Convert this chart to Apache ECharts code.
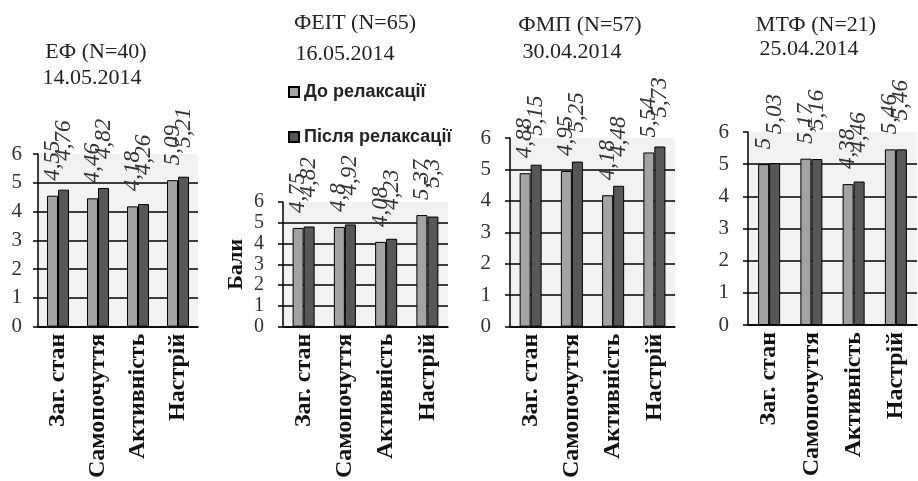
<!DOCTYPE html>
<html>
<head>
<meta charset="utf-8">
<script src="https://cdn.jsdelivr.net/npm/echarts@6/dist/echarts.min.js"></script>
<style>
html,body{margin:0;padding:0;background:#fff;}
#chart{width:918px;height:481px;}
</style>
</head>
<body>
<div id="chart"></div>
<script>
// категорії (вісь X)
var categories = ['Заг. стан', 'Самопочуття', 'Активність', 'Настрій'];
// підписи панелей
var panelNames = ['ЕФ (N=40)', 'ФЕІТ (N=65)', 'ФМП (N=57)', 'МТФ (N=21)'];
var panelDates = ['14.05.2014', '16.05.2014', '30.04.2014', '25.04.2014'];
var seriesNames = ['До релаксації', 'Після релаксації'];
// бали до / після релаксації
var beforeEF = [4.55, 4.46, 4.18, 5.09];
var afterEF = [4.76, 4.82, 4.26, 5.21];
var beforeFEIT = [4.75, 4.8, 4.08, 5.37];
var afterFEIT = [4.82, 4.92, 4.23, 5.3];
var beforeFMP = [4.88, 4.95, 4.18, 5.54];
var afterFMP = [5.15, 5.25, 4.48, 5.73];
var beforeMTF = [5, 5.17, 4.38, 5.46];
var afterMTF = [5.03, 5.16, 4.46, 5.46];
var yMin = 0, yMax = 6, yStep = 1;

var panels = [
	{before: beforeEF, after: afterEF},
	{before: beforeFEIT, after: afterFEIT},
	{before: beforeFMP, after: afterFMP},
	{before: beforeMTF, after: afterMTF}
];

// розміщення
var grids = [
	{left: 38, top: 154, width: 160, height: 185},
	{left: 283, top: 202, width: 165, height: 128},
	{left: 510, top: 138, width: 165, height: 190},
	{left: 748, top: 132, width: 169, height: 193}
];
var titlePos = [
	[[96, 52], [92, 78]],
	[[355, 23], [345, 54]],
	[[580, 25], [572, 52]],
	[[816, 25], [809, 49]]
];
var colors = ['#a3a3a3', '#575757'];
var serif = '"Liberation Serif", "Times New Roman", serif';

var dom = document.getElementById('chart');
var myChart = echarts.init(dom, null, {renderer: 'canvas'});

var fmt = function(p){
	return String(p.value).replace('.', ',');
};

var gridList = [], xAxes = [], yAxes = [], series = [], graphics = [];
for (var i = 0; i < panels.length; i++) {
	gridList.push({
		left: grids[i].left, top: grids[i].top,
		width: grids[i].width, height: grids[i].height,
		show: true, backgroundColor: '#f2f2f2', borderWidth: 0
	});
	xAxes.push({
		type: 'category', gridIndex: i, data: categories,
		axisLine: {lineStyle: {color: '#000', width: 1.5}},
		axisTick: {length: 6, lineStyle: {color: '#000', width: 1.5}},
		axisLabel: {
			interval: 0, rotate: 90, margin: 7,
			fontFamily: serif, fontWeight: 'bold', fontSize: 24, color: '#111'
		}
	});
	yAxes.push({
		type: 'value', gridIndex: i, min: yMin, max: yMax, interval: yStep,
		name: i == 1 ? 'Бали' : '',
		nameLocation: 'middle', nameRotate: 90, nameGap: 36,
		nameTextStyle: {fontFamily: serif, fontWeight: 'bold', fontSize: 22, color: '#111'},
		axisLine: {show: true, lineStyle: {color: '#000', width: 1.5}},
		axisTick: {show: true, length: 5, lineStyle: {color: '#000', width: 1.5}},
		splitLine: {show: true, showMaxLine: false, lineStyle: {color: '#000', width: 1.5}},
		axisLabel: {
			margin: i == 0 ? 16 : 19,
			showMinLabel: true, showMaxLabel: true, hideOverlap: false,
			fontFamily: serif, fontSize: i == 1 ? 20 : 21, lineHeight: 18, color: '#333'
		}
	});
	var vals = [panels[i].before, panels[i].after];
	for (var s = 0; s < 2; s++) {
		series.push({
			name: seriesNames[s], type: 'bar',
			xAxisIndex: i, yAxisIndex: i,
			data: vals[s],
			barWidth: 11, barGap: '0%',
			itemStyle: {color: colors[s], borderColor: '#000', borderWidth: 1},
			label: {
				show: true, position: 'top', rotate: 90,
				align: 'left', verticalAlign: 'middle',
				distance: s == 0 ? 22 : 36,
				offset: [-7, 0],
				fontFamily: serif, fontStyle: 'italic', fontSize: 23, color: '#333',
				formatter: fmt
			}
		});
	}
	var lines = [panelNames[i], panelDates[i]];
	for (var k = 0; k < 2; k++) {
		graphics.push({
			type: 'text', x: titlePos[i][k][0], y: titlePos[i][k][1],
			style: {
				text: lines[k], align: 'center', verticalAlign: 'middle',
				font: '22px ' + serif, fill: '#222'
			}
		});
	}
}

option = {
	backgroundColor: '#fff',
	animation: false,
	legend: {
		data: seriesNames,
		orient: 'vertical', left: 283, top: 78,
		itemGap: 27, itemWidth: 10, itemHeight: 10, icon: 'rect',
		textStyle: {fontFamily: '"Liberation Sans", Arial, sans-serif', fontWeight: 'bold', fontSize: 18, color: '#222'}
	},
	grid: gridList,
	xAxis: xAxes,
	yAxis: yAxes,
	series: series,
	graphic: graphics
};
if (option && typeof option === "object") {
	myChart.setOption(option, true);
}
</script>
</body>
</html>
